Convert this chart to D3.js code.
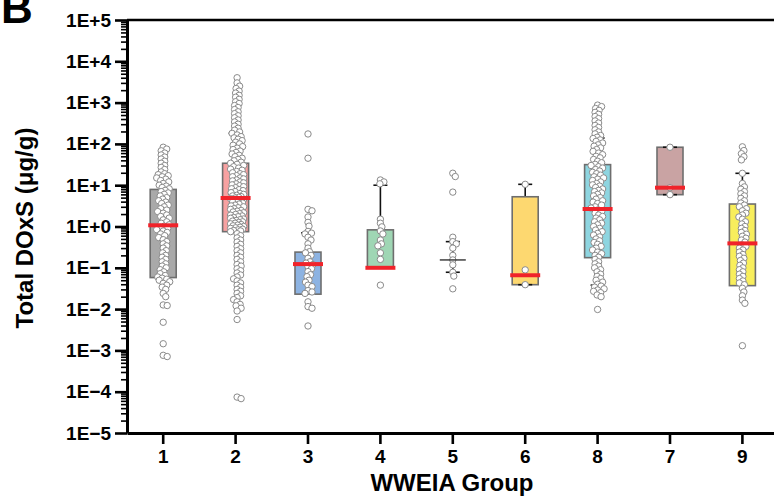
<!DOCTYPE html>
<html><head><meta charset="utf-8">
<script src="https://cdn.jsdelivr.net/npm/d3@7/dist/d3.min.js"></script>
<style>body{margin:0;background:#fff}svg{display:block}</style>
</head><body>
<svg id="c" width="774" height="496"></svg>
<script>
// ---------- data ----------
const categories = ["1","2","3","4","5","6","8","7","9"];
const boxColors = ["#a9a9a9","#f7a1a1","#8db3e2","#9fd6b4",null,"#fdd870","#8ed5e0","#c9a3a3","#f8ee5c"];
const boxQ1      = [0.058, 0.75, 0.023, 0.1, null, 0.039, 0.176, 5.9, 0.037];
const boxMedian  = [1.07, 4.9, 0.123, 0.1, 0.155, 0.066, 2.65, 8.7, 0.39];
const boxQ3      = [7.9, 34, 0.24, 0.83, null, 5.25, 31.5, 83, 3.5];
const whiskerLow = [null, null, null, null, 0.078, 0.039, 0.038, 5.9, null];
const whiskerHigh= [19, 180, 0.7, 10, 0.43, 10.5, 139, 83, 19.4];

const group1 = [7.1e-4,7.6e-4,1.45e-3,4.8e-3,0.0122,0.0126,0.020,0.024,
 0.030,0.034,0.038,0.042,0.046,0.050,0.053,0.056,
 0.060,0.065,0.072,0.080,0.090,0.10,0.11,0.125,0.14,0.16,0.18,0.20,0.23,0.26,0.30,0.34,0.38,0.43,0.48,0.54,0.60,0.66,0.72,0.78,0.84,0.90,0.96,1.02,
 1.1,1.2,1.3,1.45,1.6,1.75,1.9,2.1,2.3,2.5,2.7,3.0,3.3,3.6,3.9,4.2,4.6,5.0,5.5,6.0,6.5,7.0,7.5,
 8.2,8.8,9.5,10,11,12,13,14,15,16,17,18,19,
 21,24,27,30,34,38,43,48,54,60,68,75,83];
const group2 = [6.8e-5,7.4e-5,5.6e-3,9.0e-3,0.0105,0.012,0.013,0.015,0.017,0.019,0.021,0.024,0.027,0.030,0.034,0.038,0.043,0.048,0.054,0.06,0.067,0.075,0.085,0.095,0.11,0.12,0.14,0.16,0.18,0.2,0.23,0.26,0.29,0.33,0.37,0.42,0.47,0.53,0.6,0.67,
 0.75,0.78,0.8,0.83,0.86,0.9,0.93,0.96,1.0,1.04,1.08,1.12,1.16,1.2,1.25,1.3,1.35,1.4,1.46,1.52,1.58,1.65,1.72,1.8,1.88,1.96,2.05,2.15,2.25,2.35,2.45,2.6,2.7,2.85,3.0,3.15,3.3,3.5,3.7,3.9,4.1,4.3,4.5,4.7,4.9,
 5.1,5.3,5.5,5.7,6.0,6.3,6.6,7.0,7.4,7.8,8.2,8.7,9.2,9.7,10.2,10.8,11.4,12,12.7,13.4,14.2,15,16,17,18,19,20,21.5,23,24.5,26,28,30,32,34,
 36,39,42,45,49,53,57,62,67,73,79,86,93,100,110,120,130,140,150,165,180,
 195,215,240,270,300,340,380,430,480,540,600,680,760,850,950,1050,1200,1350,1500,1700,1900,2200,2500,3000,4000];
const group3 = [174,45,2.6,2.4,1.7,1.26,1.02,0.76,0.69,0.66,0.55,0.47,0.38,0.30,0.245,0.23,0.20,0.17,0.14,0.13,0.12,0.107,0.095,0.081,0.068,0.061,0.05,0.045,0.038,0.035,0.028,0.026,0.024,0.015,0.0115,0.0105,0.0039];
const group4 = [13.4,12,10.8,1.5,1.2,0.98,0.78,0.66,0.47,0.38,0.34,0.23,0.16,0.038];
const group5 = [19.5,16.2,6.8,0.55,0.43,0.38,0.30,0.20,0.155,0.118,0.078,0.063,0.031];
const group6 = [10.5,0.089,0.039];
const group8 = [870,800,720,650,580,520,460,410,360,320,280,250,220,195,175,160,145,135,
 125,115,105,95,88,80,73,66,60,55,50,46,42,38,35,32,
 30,28,26,24,22,20.5,19,17.5,16,15,14,13,12,11,10.2,9.5,8.8,8.1,7.5,7.0,6.5,6.0,5.5,5.0,4.6,4.2,3.9,3.6,3.3,3.0,2.8,
 2.5,2.3,2.1,1.9,1.75,1.6,1.45,1.3,1.2,1.1,1.0,0.9,0.82,0.75,0.68,0.62,0.56,0.5,0.45,0.41,0.37,0.33,0.3,0.27,0.24,0.22,0.2,0.18,
 0.16,0.14,0.125,0.11,0.1,0.09,0.08,0.07,0.062,0.055,0.05,0.045,0.04,0.036,0.034,0.031,0.029,0.027,0.025,0.022,0.02,0.0098];
const group7 = [83,8.7,5.9];
const group9 = [85,69,58,49,41,
 19.4,11,9.1,8,7,6.2,5.5,4.8,4.2,3.7,
 3.3,3.0,2.7,2.4,2.1,1.9,1.7,1.5,1.3,1.15,1.0,0.9,0.8,0.72,0.65,0.58,0.52,0.47,0.42,
 0.36,0.33,0.3,0.27,0.24,0.21,0.19,0.17,0.15,0.13,0.115,0.1,0.09,0.08,0.07,0.062,0.055,0.048,0.043,0.039,
 0.032,0.026,0.021,0.0165,0.0138,1.3e-3];
const groupValues = [group1,group2,group3,group4,group5,group6,group8,group7,group9];

const yTickValues = [1e-5,1e-4,1e-3,1e-2,1e-1,1,1e1,1e2,1e3,1e4,1e5];
const yLabel = "Total DOxS (\u03bcg/g)";
const xLabel = "WWEIA Group";
const panelLetter = "B";

// ---------- drawing ----------
const FONT = "'Liberation Sans', Arial, Helvetica, sans-serif";
const svg = d3.select("#c");
const plotLeft = 127, plotTop = 20, plotBottom = 433, plotRight = 778.6;

const y = d3.scaleLog().domain([1e-5, 1e5]).range([plotBottom, plotTop]);
const x = d3.scaleBand().domain(categories).range([plotLeft, plotRight]).padding(0);
const cx = c => x(c) + x.bandwidth() / 2;

const minorTicks = [];
for (let e = -5; e < 5; e++) for (let m = 2; m <= 9; m++) minorTicks.push(m * Math.pow(10, e));

// top frame line
svg.append("line").attr("x1", plotLeft).attr("x2", 774).attr("y1", y(1e5)).attr("y2", y(1e5))
  .attr("stroke", "#000").attr("stroke-width", 2.5);

// boxes
const BW = 26, MW = 30, CW = 14;
categories.forEach((c, i) => {
  const X = cx(c);
  const g = svg.append("g");
  const hasBox = boxQ1[i] != null;
  const lowTop = hasBox ? boxQ1[i] : boxMedian[i];
  const highBot = hasBox ? boxQ3[i] : boxMedian[i];
  if (whiskerHigh[i] != null && whiskerHigh[i] > highBot) {
    g.append("line").attr("x1", X).attr("x2", X).attr("y1", y(highBot)).attr("y2", y(whiskerHigh[i]))
      .attr("stroke", "#111").attr("stroke-width", 1.6);
  }
  if (whiskerLow[i] != null && whiskerLow[i] < lowTop) {
    g.append("line").attr("x1", X).attr("x2", X).attr("y1", y(lowTop)).attr("y2", y(whiskerLow[i]))
      .attr("stroke", "#111").attr("stroke-width", 1.6);
  }
  if (hasBox) {
    g.append("rect").attr("x", X - BW / 2).attr("width", BW)
      .attr("y", y(boxQ3[i])).attr("height", y(boxQ1[i]) - y(boxQ3[i]))
      .attr("fill", boxColors[i]).attr("stroke", "#6e6e6e").attr("stroke-width", 1.6);
  }
  [whiskerHigh[i], whiskerLow[i]].forEach(w => {
    if (w == null) return;
    g.append("line").attr("x1", X - CW / 2).attr("x2", X + CW / 2).attr("y1", y(w)).attr("y2", y(w))
      .attr("stroke", "#111").attr("stroke-width", 1.6);
  });
});

// dots - deterministic beeswarm (narrow, overlapping)
function swarm(vals, X) {
  const pts = vals.map(v => ({ v, y: y(v) })).sort((a, b) => a.y - b.y);
  const placed = [];
  const minD = 3.9, maxW = 6.5;
  pts.forEach(p => {
    let best = 0, bestScore = -1;
    for (let k = 0; k <= maxW * 4; k++) {
      const off = (k % 2 ? 1 : -1) * Math.ceil(k / 2) * 0.5;
      let md = Infinity;
      for (let j = placed.length - 1; j >= 0; j--) {
        const q = placed[j];
        if (p.y - q.y > minD) break;
        const d = Math.hypot(q.x - (X + off), q.y - p.y);
        if (d < md) md = d;
      }
      if (md >= minD) { best = off; bestScore = Infinity; break; }
      if (md > bestScore) { bestScore = md; best = off; }
    }
    p.x = X + best;
    placed.push(p);
  });
  return pts;
}
categories.forEach((c, i) => {
  const pts = swarm(groupValues[i], cx(c) + (i === 1 ? 1.5 : 0));
  svg.append("g").selectAll("circle").data(pts).join("circle")
    .attr("cx", d => d.x).attr("cy", d => d.y).attr("r", 3.2)
    .attr("fill", "#fff").attr("stroke", "#8a8a8a").attr("stroke-width", 1);
});

// medians
categories.forEach((c, i) => {
  const X = cx(c);
  if (boxQ1[i] != null) {
    svg.append("line").attr("x1", X - MW / 2).attr("x2", X + MW / 2)
      .attr("y1", y(boxMedian[i])).attr("y2", y(boxMedian[i]))
      .attr("stroke", "#f0232a").attr("stroke-width", 4);
  } else {
    svg.append("line").attr("x1", X - BW / 2).attr("x2", X + BW / 2)
      .attr("y1", y(boxMedian[i])).attr("y2", y(boxMedian[i]))
      .attr("stroke", "#333").attr("stroke-width", 1.4);
  }
});

// y axis
const fmt = d => { const e = Math.round(Math.log10(d)); return "1E" + (e >= 0 ? "+" + e : "\u2212" + (-e)); };
const yAxisMinor = svg.append("g").attr("transform", `translate(${plotLeft},0)`)
  .call(d3.axisLeft(y).tickValues(minorTicks).tickSize(6).tickSizeOuter(0).tickFormat(""));
yAxisMinor.select(".domain").remove();
yAxisMinor.selectAll(".tick line").attr("stroke", "#000").attr("stroke-width", 1.6);
const yAxis = svg.append("g").attr("transform", `translate(${plotLeft},0)`)
  .call(d3.axisLeft(y).tickValues(yTickValues).tickSize(12).tickSizeOuter(0).tickPadding(4).tickFormat(fmt));
yAxis.select(".domain").attr("stroke", "#000").attr("stroke-width", 3);
yAxis.selectAll(".tick line").attr("stroke", "#000").attr("stroke-width", 2.6);
yAxis.selectAll(".tick text").attr("font-family", FONT).attr("font-weight", "bold")
  .attr("font-size", 19).attr("fill", "#000");

// x axis
const xAxis = svg.append("g").attr("transform", `translate(0,${plotBottom})`)
  .call(d3.axisBottom(x).tickSize(11).tickSizeOuter(0).tickPadding(6));
xAxis.select(".domain").attr("stroke", "#000").attr("stroke-width", 3);
xAxis.selectAll(".tick line").attr("stroke", "#000").attr("stroke-width", 2.6);
xAxis.selectAll(".tick text").attr("font-family", FONT).attr("font-weight", "bold")
  .attr("font-size", 19).attr("fill", "#000");

// labels
svg.append("text").attr("x", 452).attr("y", 491).attr("text-anchor", "middle")
  .attr("font-family", FONT).attr("font-weight", "bold").attr("font-size", 24).text(xLabel);
svg.append("text").attr("transform", "translate(33,228) rotate(-90)").attr("text-anchor", "middle")
  .attr("font-family", FONT).attr("font-weight", "bold").attr("font-size", 24).text(yLabel);
svg.append("text").attr("x", 1).attr("y", 23).attr("font-family", FONT).attr("font-weight", "bold")
  .attr("font-size", 44).text(panelLetter);
</script>
</body></html>
